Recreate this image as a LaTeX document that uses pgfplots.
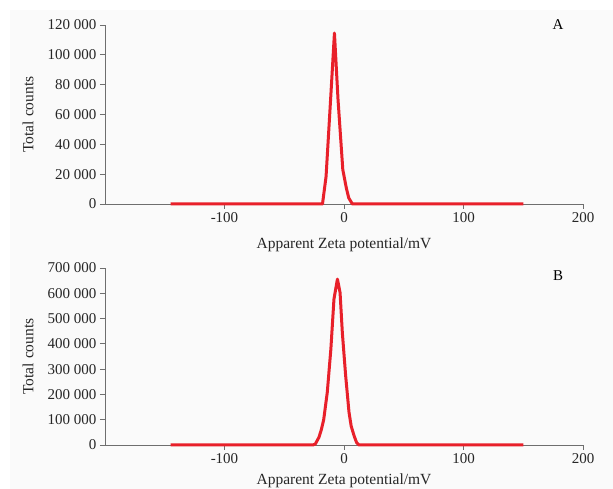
\documentclass[border=0pt]{standalone}
\usepackage{fontspec}
\setmainfont{Liberation Serif}
\usepackage{pgfplots}
\pgfplotsset{compat=1.18}
\definecolor{curve}{RGB}{232,32,42}
\definecolor{panelbg}{RGB}{250,250,250}
\definecolor{axisgray}{RGB}{110,110,110}

\pgfplotsset{zeta/.style={
    scale only axis, width=478pt,
    xmin=-200, xmax=200, ymin=0,
    axis x line*=bottom, axis y line*=left,
    axis line style={-, axisgray, line width=0.8pt},
    tick align=outside, major tick length=5pt,
    tick style={axisgray, line width=0.8pt},
    scaled y ticks=false,
    xtick={-100,0,100,200},
    xticklabels={-100,0,100,200},
    tick label style={font=\fontsize{15}{17}\selectfont, text=black!85},
    label style={font=\fontsize{15.5}{17}\selectfont, text=black!85},
    xlabel={Apparent Zeta potential/mV},
    ylabel={Total counts},
    xlabel style={at={(axis description cs:0.5,-0.23)}, anchor=center},
    ylabel style={at={(axis description cs:-0.161,0.5)}, anchor=center},
    clip=false,
}}

\begin{document}
\begin{tikzpicture}
\path[use as bounding box] (0,0) rectangle (613pt,489pt);
\fill[panelbg] (10pt,0pt) rectangle (613pt,479pt);

% panel A
\begin{axis}[zeta, at={(105pt,285pt)}, anchor=south west, height=179pt,
    ymax=120000, ytick={0,20000,...,120000},
    yticklabels={0,20 000,40 000,60 000,80 000,100 000,120 000}]
\addplot[curve, line width=3pt, line join=round] coordinates {
    (-145,0) (-40,0) (-18,0) (-15,18500) (-11,73000) (-8,114600)
    (-5,70000) (-1,23000) (2,10500) (4,4000) (7,0) (40,0) (150,0)
};
\node[font=\fontsize{15}{17}\selectfont] at (axis description cs:0.948,1) {A};
\end{axis}

% panel B
\begin{axis}[zeta, at={(105pt,44pt)}, anchor=south west, height=177pt,
    ymax=700000, ytick={0,100000,...,700000},
    yticklabels={0,100 000,200 000,300 000,400 000,500 000,600 000,700 000},
    xlabel style={at={(axis description cs:0.5,-0.2)}, anchor=center}]
\addplot[curve, line width=3pt, line join=round] coordinates {
    (-145,0) (-40,0) (-26,0) (-24,4000) (-21,30000) (-19,60000)
    (-17,100000) (-14,208000) (-11,379000) (-8.4,577000) (-5.5,656000)
    (-3.3,603000) (-1.4,445000) (1.4,273000) (4.2,129000) (6,75000)
    (8.4,37000) (10.5,10000) (12.6,0) (40,0) (150,0)
};
\node[font=\fontsize{15}{17}\selectfont] at (axis description cs:0.948,0.955) {B};
\end{axis}
\end{tikzpicture}
\end{document}
